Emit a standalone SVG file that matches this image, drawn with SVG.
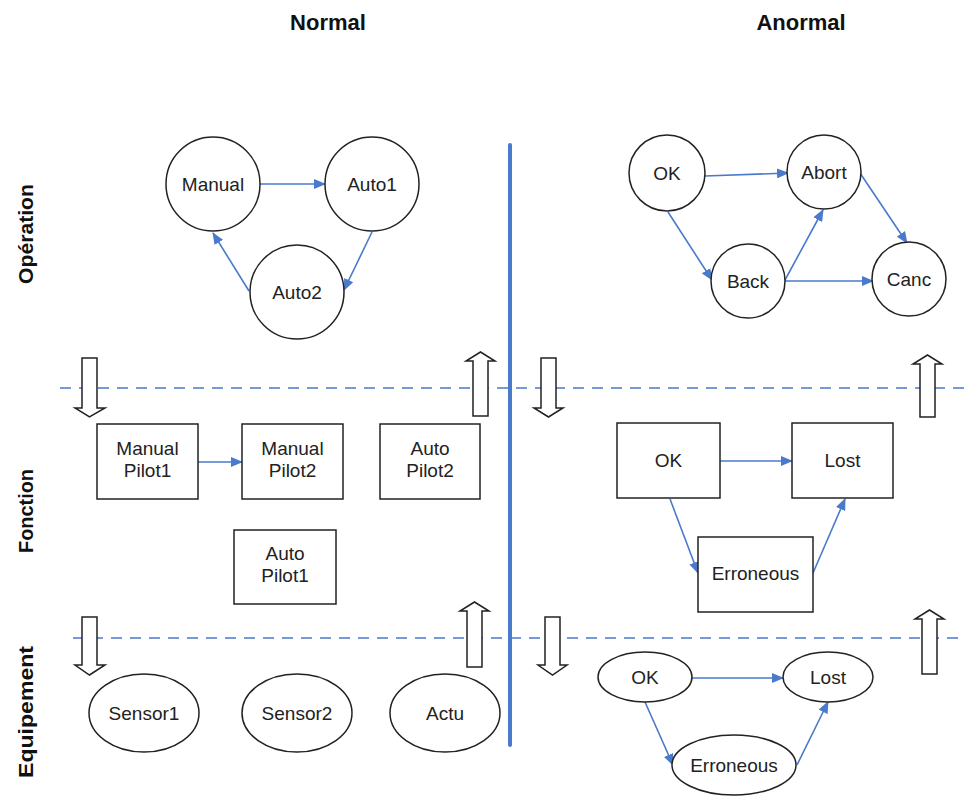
<svg xmlns="http://www.w3.org/2000/svg" width="966" height="796" viewBox="0 0 966 796">
<style>
.node{fill:#fff;stroke:#222;stroke-width:1.5}
.lbl{font-family:"Liberation Sans",Arial,sans-serif;font-size:19px;fill:#222;text-anchor:middle}
.title{font-family:"Liberation Sans",Arial,sans-serif;font-size:22px;font-weight:bold;fill:#111;text-anchor:middle}
.side{font-family:"Liberation Sans",Arial,sans-serif;font-size:21px;font-weight:bold;fill:#111;text-anchor:middle}
.conn{stroke:#4a7acb;stroke-width:1.6;fill:none;marker-end:url(#ah)}
.dash{stroke:#4a7acb;stroke-width:1.6;stroke-dasharray:11 8;fill:none}
.blk{fill:#fff;stroke:#222;stroke-width:1.5;stroke-linejoin:miter}
</style>
<defs>
<marker id="ah" markerWidth="12" markerHeight="10" refX="11" refY="5" orient="auto" markerUnits="userSpaceOnUse">
<path d="M0,0 L12,5 L0,10 Z" fill="#4a7acb"/>
</marker>
</defs>
<rect width="966" height="796" fill="#fff"/>

<g id="titles">
<text class="title" x="328" y="30">Normal</text>
<text class="title" x="801" y="30">Anormal</text>
<text class="side" transform="translate(33,234) rotate(-90)" textLength="100" lengthAdjust="spacingAndGlyphs">Opération</text>
<text class="side" transform="translate(33,511) rotate(-90)" textLength="84" lengthAdjust="spacingAndGlyphs">Fonction</text>
<text class="side" transform="translate(33,712) rotate(-90)" textLength="132" lengthAdjust="spacingAndGlyphs">Equipement</text>
</g>

<g id="separators">
<line x1="510" y1="145" x2="510" y2="745" stroke="#4a7acb" stroke-width="4" stroke-linecap="round"/>
<line class="dash" x1="60" y1="388" x2="966" y2="388"/>
<line class="dash" x1="73" y1="638" x2="966" y2="638"/>
</g>

<g id="block-arrows">
<polygon class="blk" points="82,358 97,358 97,408 105,408 89.5,417 75,408 82,408"/>
<polygon class="blk" points="473,416 488,416 488,361 495,361 480.5,352 466,361 473,361"/>
<polygon class="blk" points="541,358 556,358 556,408 563,408 548.5,417 534,408 541,408"/>
<polygon class="blk" points="920,417 935,417 935,364 942,364 927.5,355 913,364 920,364"/>
<polygon class="blk" points="82,617 97,617 97,665 105,665 89.5,675 75,665 82,665"/>
<polygon class="blk" points="467,667 482,667 482,611 489,611 474.5,602 460,611 467,611"/>
<polygon class="blk" points="545,617 560,617 560,665 567,665 552.5,675 538,665 545,665"/>
<polygon class="blk" points="922,674 937,674 937,619 944,619 929.5,610 915,619 922,619"/>
</g>

<g id="connectors">
<line class="conn" x1="260" y1="184" x2="325" y2="184"/>
<line class="conn" x1="372" y1="232" x2="344" y2="290"/>
<line class="conn" x1="249" y1="291" x2="213" y2="233"/>
<line class="conn" x1="705" y1="176" x2="788" y2="173"/>
<line class="conn" x1="668" y1="212" x2="712" y2="280"/>
<line class="conn" x1="785" y1="280" x2="823" y2="210"/>
<line class="conn" x1="785" y1="281" x2="873" y2="281"/>
<line class="conn" x1="860" y1="173" x2="907" y2="243"/>
<line class="conn" x1="198" y1="462" x2="242" y2="462"/>
<line class="conn" x1="720" y1="461" x2="792" y2="461"/>
<line class="conn" x1="670" y1="499" x2="698" y2="573"/>
<line class="conn" x1="813" y1="573" x2="845" y2="499"/>
<line class="conn" x1="692" y1="678" x2="783" y2="678"/>
<line class="conn" x1="645" y1="702" x2="673" y2="765"/>
<line class="conn" x1="797" y1="765" x2="828" y2="702"/>
</g>

<g id="op-manual"><circle class="node" cx="213" cy="184" r="47"/><text class="lbl" x="213" y="191">Manual</text></g>
<g id="op-auto1"><circle class="node" cx="372" cy="184" r="47"/><text class="lbl" x="372" y="191">Auto1</text></g>
<g id="op-auto2"><circle class="node" cx="297" cy="292" r="47"/><text class="lbl" x="297" y="299">Auto2</text></g>

<g id="op-ok"><circle class="node" cx="667" cy="173" r="38"/><text class="lbl" x="667" y="180">OK</text></g>
<g id="op-abort"><circle class="node" cx="824" cy="172" r="37"/><text class="lbl" x="824" y="179">Abort</text></g>
<g id="op-back"><circle class="node" cx="748" cy="281" r="37"/><text class="lbl" x="748" y="288">Back</text></g>
<g id="op-canc"><circle class="node" cx="909" cy="279" r="37"/><text class="lbl" x="909" y="286">Canc</text></g>

<g id="fn-manualpilot1"><rect class="node" x="97" y="424" width="101" height="75"/><text class="lbl" x="147.5" y="455">Manual</text><text class="lbl" x="147.5" y="477">Pilot1</text></g>
<g id="fn-manualpilot2"><rect class="node" x="242" y="424" width="101" height="75"/><text class="lbl" x="292.5" y="455">Manual</text><text class="lbl" x="292.5" y="477">Pilot2</text></g>
<g id="fn-autopilot2"><rect class="node" x="380" y="424" width="100" height="75"/><text class="lbl" x="430" y="455">Auto</text><text class="lbl" x="430" y="477">Pilot2</text></g>
<g id="fn-autopilot1"><rect class="node" x="234" y="530" width="102" height="74"/><text class="lbl" x="285" y="560">Auto</text><text class="lbl" x="285" y="582">Pilot1</text></g>

<g id="fn-ok"><rect class="node" x="617" y="423" width="103" height="75"/><text class="lbl" x="668.5" y="467">OK</text></g>
<g id="fn-lost"><rect class="node" x="792" y="423" width="101" height="75"/><text class="lbl" x="842.5" y="467">Lost</text></g>
<g id="fn-erroneous"><rect class="node" x="698" y="537" width="115" height="75"/><text class="lbl" x="755.5" y="580">Erroneous</text></g>

<g id="eq-sensor1"><ellipse class="node" cx="144" cy="713" rx="55" ry="39"/><text class="lbl" x="144" y="720">Sensor1</text></g>
<g id="eq-sensor2"><ellipse class="node" cx="297" cy="713" rx="55" ry="39"/><text class="lbl" x="297" y="720">Sensor2</text></g>
<g id="eq-actu"><ellipse class="node" cx="445" cy="713" rx="55" ry="39"/><text class="lbl" x="445" y="720">Actu</text></g>

<g id="eq-ok"><ellipse class="node" cx="645" cy="677" rx="47" ry="25"/><text class="lbl" x="645" y="684">OK</text></g>
<g id="eq-lost"><ellipse class="node" cx="828" cy="677" rx="45" ry="25"/><text class="lbl" x="828" y="684">Lost</text></g>
<g id="eq-erroneous"><ellipse class="node" cx="734" cy="765" rx="62" ry="30"/><text class="lbl" x="734" y="772">Erroneous</text></g>
</svg>
